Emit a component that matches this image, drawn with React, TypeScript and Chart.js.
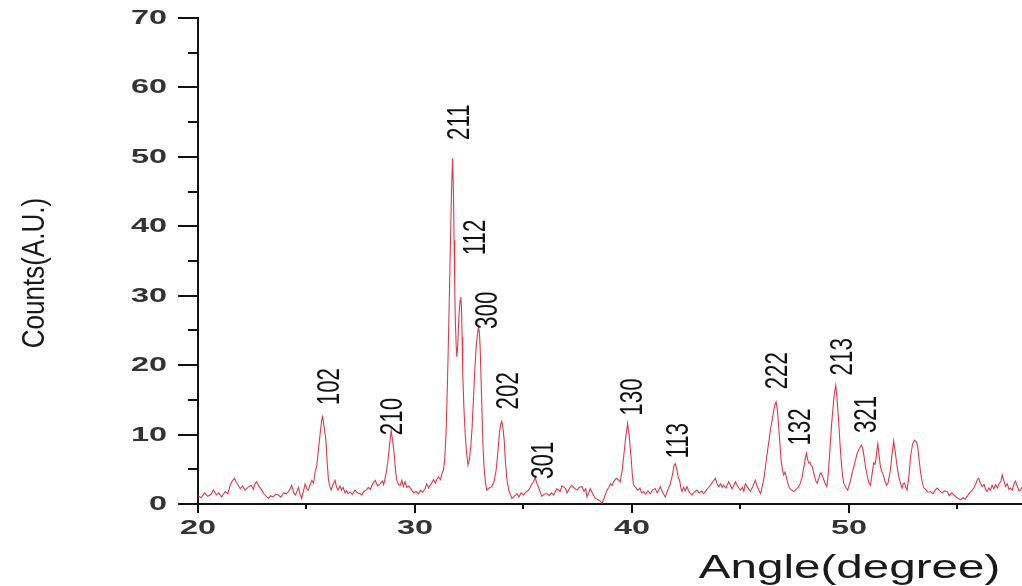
import React, { useEffect, useRef } from "react";
import { Chart, registerables } from "chart.js";

Chart.register(...registerables);

// ---- data ----
const angles = [
  20.0, 20.15, 20.3, 20.45, 20.6, 20.71, 20.85, 20.95, 21.09, 21.25, 21.38, 21.48, 21.58, 21.68, 21.77, 21.86, 21.95,
  22.05, 22.17, 22.3, 22.45, 22.55, 22.63, 22.71, 22.8, 22.94, 23.05, 23.15, 23.25, 23.35, 23.45, 23.58, 23.71, 23.82,
  23.95, 24.09, 24.2, 24.32, 24.42, 24.5, 24.63, 24.7, 24.78, 24.86, 24.94, 25.02, 25.09, 25.17, 25.25, 25.33, 25.4,
  25.48, 25.55, 25.63, 25.7, 25.75, 25.82, 25.9, 25.96, 26.02, 26.08, 26.14, 26.22, 26.32, 26.39, 26.46, 26.55, 26.62,
  26.69, 26.78, 26.85, 26.92, 27.02, 27.12, 27.24, 27.35, 27.45, 27.55, 27.65, 27.76, 27.86, 27.95, 28.05, 28.17, 28.28,
  28.4, 28.5, 28.56, 28.63, 28.7, 28.78, 28.85, 28.91, 28.98, 29.06, 29.12, 29.17, 29.25, 29.32, 29.4, 29.47, 29.55,
  29.63, 29.72, 29.86, 29.95, 30.05, 30.17, 30.26, 30.35, 30.47, 30.55, 30.64, 30.73, 30.86, 30.95, 31.02, 31.09, 31.18,
  31.25, 31.32, 31.38, 31.44, 31.5, 31.55, 31.6, 31.66, 31.7, 31.74, 31.78, 31.81, 31.84, 31.87, 31.91, 31.94, 31.98,
  32.01, 32.05, 32.09, 32.12, 32.15, 32.18, 32.21, 32.26, 32.32, 32.38, 32.45, 32.52, 32.58, 32.64, 32.7, 32.76, 32.83,
  32.89, 32.94, 32.98, 33.01, 33.06, 33.11, 33.15, 33.2, 33.26, 33.32, 33.42, 33.55, 33.65, 33.75, 33.83, 33.9, 33.96,
  34.01, 34.06, 34.12, 34.18, 34.25, 34.33, 34.4, 34.48, 34.58, 34.71, 34.8, 34.9, 35.01, 35.12, 35.24, 35.32, 35.4,
  35.48, 35.55, 35.62, 35.7, 35.78, 35.86, 35.96, 36.09, 36.2, 36.3, 36.4, 36.55, 36.7, 36.78, 36.86, 36.95, 37.02,
  37.09, 37.16, 37.24, 37.35, 37.48, 37.58, 37.71, 37.8, 37.88, 37.94, 38.02, 38.09, 38.2, 38.32, 38.45, 38.55, 38.63,
  38.72, 38.8, 38.86, 38.95, 39.02, 39.09, 39.18, 39.29, 39.38, 39.47, 39.55, 39.63, 39.72, 39.81, 39.88, 39.97, 40.03,
  40.09, 40.18, 40.28, 40.38, 40.46, 40.55, 40.65, 40.75, 40.86, 40.96, 41.09, 41.18, 41.25, 41.32, 41.42, 41.55, 41.65,
  41.78, 41.88, 41.95, 42.01, 42.08, 42.15, 42.21, 42.27, 42.32, 42.4, 42.47, 42.55, 42.65, 42.78, 42.88, 43.01, 43.12,
  43.22, 43.32, 43.42, 43.52, 43.63, 43.74, 43.86, 43.93, 44.01, 44.1, 44.17, 44.24, 44.35, 44.47, 44.55, 44.63, 44.7,
  44.78, 44.88, 45.01, 45.1, 45.17, 45.24, 45.35, 45.47, 45.57, 45.63, 45.7, 45.8, 45.88, 45.94, 46.03, 46.1, 46.17,
  46.28, 46.4, 46.5, 46.58, 46.66, 46.72, 46.78, 46.84, 46.89, 46.95, 47.01, 47.07, 47.13, 47.2, 47.28, 47.38, 47.47,
  47.58, 47.7, 47.78, 47.86, 47.95, 48.02, 48.06, 48.11, 48.16, 48.22, 48.27, 48.32, 48.42, 48.48, 48.55, 48.62, 48.68,
  48.73, 48.8, 48.86, 48.93, 49.0, 49.07, 49.16, 49.22, 49.29, 49.35, 49.41, 49.46, 49.53, 49.6, 49.66, 49.72, 49.78,
  49.87, 49.96, 50.06, 50.17, 50.28, 50.4, 50.5, 50.6, 50.68, 50.78, 50.88, 50.95, 51.01, 51.08, 51.16, 51.22, 51.26,
  51.31, 51.35, 51.4, 51.47, 51.54, 51.6, 51.68, 51.75, 51.82, 51.93, 52.0, 52.08, 52.15, 52.24, 52.33, 52.4, 52.47,
  52.52, 52.58, 52.64, 52.7, 52.78, 52.86, 52.95, 53.04, 53.12, 53.19, 53.25, 53.31, 53.38, 53.47, 53.56, 53.65, 53.78,
  53.9, 54.0, 54.09, 54.2, 54.32, 54.43, 54.55, 54.65, 54.76, 54.86, 54.97, 55.06, 55.16, 55.28, 55.38, 55.47, 55.58,
  55.68, 55.78, 55.88, 55.95, 56.0, 56.08, 56.16, 56.25, 56.32, 56.39, 56.47, 56.55, 56.62, 56.7, 56.78, 56.86, 56.94,
  57.02, 57.09, 57.15, 57.24, 57.32, 57.4, 57.47, 57.55, 57.62, 57.7, 57.78, 57.86, 57.93, 58.0,
];

const counts = [
  1.2, 0.9, 1.6, 1.1, 1.4, 2.0, 1.3, 1.6, 1.0, 1.8, 1.5, 2.7, 3.3, 3.7, 3.1, 2.7, 2.2,
  2.6, 2.0, 2.4, 2.7, 2.1, 2.9, 3.2, 2.6, 2.0, 1.4, 1.1, 0.8, 1.2, 1.0, 1.4, 1.3, 1.0,
  1.6, 1.5, 1.9, 2.7, 1.6, 1.3, 2.4, 1.5, 0.8, 1.8, 2.9, 2.2, 2.0, 2.8, 3.4, 3.0, 4.6,
  5.6, 7.7, 10.0, 12.0, 12.6, 11.0, 9.2, 5.8, 3.4, 2.5, 2.0, 2.8, 3.4, 2.4, 2.0, 2.6, 2.0,
  2.4, 1.6, 1.9, 1.5, 1.7, 1.4, 2.0, 1.6, 1.5, 1.3, 1.8, 2.0, 2.4, 2.1, 2.9, 3.4, 2.6,
  2.9, 3.3, 2.8, 3.7, 4.8, 6.8, 9.0, 10.6, 9.0, 6.8, 4.5, 3.4, 2.8, 2.7, 3.4, 2.5, 3.2,
  2.4, 2.6, 2.0, 1.6, 1.8, 1.5, 2.0, 1.7, 2.2, 2.9, 2.3, 2.8, 3.5, 3.0, 3.6, 3.9, 3.5,
  4.4, 4.9, 6.5, 10.2, 17.0, 23.6, 31.0, 40.5, 46.0, 49.8, 45.0, 38.0, 31.0, 26.1, 22.5, 21.2, 23.0,
  25.5, 27.8, 29.4, 29.8, 28.4, 24.0, 18.8, 14.0, 10.2, 7.5, 5.6, 6.5, 8.3, 11.0, 15.0, 19.0, 22.7,
  24.5, 25.5, 24.6, 22.7, 17.5, 11.7, 7.8, 4.9, 3.0, 2.0, 2.3, 2.5, 3.2, 4.9, 7.5, 10.2, 11.5,
  11.9, 11.0, 9.2, 6.0, 3.5, 2.0, 1.4, 0.8, 1.1, 1.5, 1.0, 1.6, 1.3, 1.7, 2.0, 2.4, 2.9,
  3.2, 3.9, 3.0, 2.5, 1.7, 1.1, 1.4, 1.5, 1.2, 1.6, 1.3, 2.2, 1.8, 2.6, 2.5, 2.2, 1.6,
  2.0, 2.4, 2.7, 2.3, 2.0, 2.4, 2.5, 1.8, 2.2, 1.0, 1.6, 2.2, 1.5, 0.8, 0.6, 0.4, 0.1,
  0.8, 1.5, 2.0, 2.4, 2.9, 2.7, 3.3, 3.7, 3.5, 3.2, 4.6, 6.8, 9.5, 11.6, 10.0, 6.8, 4.2,
  2.7, 2.4, 2.0, 2.3, 1.6, 1.8, 1.4, 1.9, 1.5, 2.0, 2.2, 1.6, 2.0, 2.5, 1.7, 1.0, 1.9,
  2.9, 4.2, 5.5, 5.8, 5.0, 3.8, 3.4, 2.3, 1.8, 2.4, 1.9, 2.5, 1.7, 1.3, 1.7, 2.0, 1.6,
  1.9, 1.5, 1.9, 2.3, 2.7, 3.2, 3.7, 3.0, 2.5, 2.9, 2.4, 2.7, 2.3, 3.2, 2.7, 2.2, 2.6,
  3.2, 2.6, 2.0, 2.4, 1.8, 2.9, 2.4, 1.8, 2.4, 2.9, 3.4, 2.4, 1.9, 1.5, 2.6, 3.8, 5.4,
  8.0, 10.7, 12.5, 14.0, 14.7, 13.5, 11.1, 8.5, 6.3, 5.0, 4.2, 4.6, 3.9, 3.0, 2.3, 2.0, 1.8,
  2.1, 2.5, 3.0, 3.9, 5.5, 6.8, 7.3, 6.5, 5.9, 6.0, 5.6, 5.4, 4.2, 3.4, 3.0, 3.6, 4.3,
  4.5, 4.0, 3.5, 2.9, 2.5, 4.5, 8.7, 11.5, 14.0, 16.0, 17.1, 15.5, 12.6, 9.0, 6.3, 4.2, 3.0,
  2.4, 2.0, 3.0, 4.5, 5.8, 7.3, 8.0, 8.5, 7.6, 5.4, 3.8, 3.0, 2.7, 4.2, 5.9, 5.7, 6.3,
  7.8, 8.7, 7.2, 5.4, 4.6, 4.2, 3.3, 2.7, 3.0, 4.9, 7.0, 9.1, 7.6, 5.4, 3.8, 2.9, 2.3,
  2.9, 3.0, 2.4, 2.0, 3.8, 6.8, 8.6, 9.2, 9.0, 8.3, 6.5, 4.9, 3.4, 2.3, 2.1, 1.7, 1.8,
  1.5, 2.0, 2.3, 1.9, 1.6, 1.9, 1.8, 1.2, 1.6, 1.3, 1.0, 0.8, 0.6, 0.9, 0.7, 1.1, 1.6,
  1.9, 2.3, 3.0, 3.6, 3.7, 3.0, 2.5, 2.8, 2.1, 1.8, 2.3, 2.0, 2.7, 2.2, 2.8, 2.3, 2.9,
  3.2, 4.2, 3.5, 2.5, 2.9, 2.1, 2.3, 2.0, 2.8, 3.3, 2.6, 1.9, 2.0, 2.4,
];

const peakNames = ["102", "210", "211", "112", "300", "202", "301", "130", "113", "222", "132", "213", "321"];
const peakLabelAngles = [26.12, 29.02, 32.12, 32.86, 33.4, 34.36, 35.98, 40.1, 42.18, 46.76, 47.82, 49.75, 50.87];
const peakLabelCounts = [16.9, 12.6, 55.0, 38.4, 27.9, 16.3, 6.3, 15.4, 9.1, 19.2, 11.1, 21.2, 12.9];

const xTickValues = [20, 25, 30, 35, 40, 45, 50, 55];
const yTickValues = [0, 5, 10, 15, 20, 25, 30, 35, 40, 45, 50, 55, 60, 65, 70];
const xMin = 20;
const xMax = 58;
const yMin = 0;
const yMax = 70;
const xTitle = "Angle(degree)";
const yTitle = "Counts(A.U.)";
const titleAnchorAngle = 50;

function drawText(
  ctx: CanvasRenderingContext2D,
  text: string,
  x: number,
  y: number,
  font: string,
  sx: number,
  rot: number,
  align: CanvasTextAlign,
  baseline: CanvasTextBaseline,
  color: string
) {
  ctx.save();
  ctx.translate(x, y);
  if (rot) ctx.rotate(rot);
  ctx.scale(sx, 1);
  ctx.font = font;
  ctx.fillStyle = color;
  ctx.textAlign = align;
  ctx.textBaseline = baseline;
  ctx.fillText(text, 0, 0);
  ctx.restore();
}

const decorPlugin = {
  id: "decor",
  afterDraw(chart: any) {
    const { ctx, chartArea } = chart;
    const xs = chart.scales.x;
    const ys = chart.scales.y;
    const tickFont = 'bold 20px "Liberation Sans", Arial, sans-serif';
    ctx.save();
    ctx.strokeStyle = "#111";
    ctx.lineWidth = 2;
    // y ticks + labels
    yTickValues.forEach((v) => {
      const py = Math.round(ys.getPixelForValue(v));
      const major = v % 10 === 0;
      const len = major ? 20 : 10;
      ctx.beginPath();
      ctx.moveTo(chartArea.left - len, py);
      ctx.lineTo(chartArea.left, py);
      ctx.stroke();
      if (major) {
        drawText(ctx, String(v), chartArea.left - 31, py, tickFont, 1.62, 0, "right", "middle", "#333");
      }
    });
    // x ticks + labels
    xTickValues.forEach((v) => {
      const px = Math.round(xs.getPixelForValue(v));
      const major = v % 10 === 0;
      const len = major ? 9 : 5;
      ctx.beginPath();
      ctx.moveTo(px, chartArea.bottom);
      ctx.lineTo(px, chartArea.bottom + len);
      ctx.stroke();
      if (major) {
        drawText(ctx, String(v), px, chartArea.bottom + 24, tickFont, 1.62, 0, "center", "middle", "#333");
      }
    });
    // axis titles
    drawText(
      ctx,
      xTitle,
      xs.getPixelForValue(titleAnchorAngle) + 1,
      chartArea.bottom + 74,
      '34px "Liberation Sans", Arial, sans-serif',
      1.4,
      0,
      "center",
      "alphabetic",
      "#1a1a1a"
    );
    drawText(
      ctx,
      yTitle,
      35,
      (chartArea.top + chartArea.bottom) / 2 + 12,
      '31px "Liberation Sans", Arial, sans-serif',
      0.84,
      -Math.PI / 2,
      "center",
      "middle",
      "#1a1a1a"
    );
    // peak labels
    peakNames.forEach((name, i) => {
      const px = xs.getPixelForValue(peakLabelAngles[i]);
      const py = ys.getPixelForValue(peakLabelCounts[i]);
      drawText(ctx, name, px, py, '31px "Liberation Sans", Arial, sans-serif', 0.72, -Math.PI / 2, "center", "middle", "#111");
    });
    ctx.restore();
  },
};

export default function App() {
  const canvasRef = useRef<HTMLCanvasElement | null>(null);

  useEffect(() => {
    if (!canvasRef.current) return;
    const points = angles.map((a, i) => ({ x: a, y: counts[i] }));
    const chart = new Chart(canvasRef.current, {
      type: "line",
      data: {
        datasets: [
          {
            data: points,
            borderColor: "#e0394a",
            borderWidth: 1.1,
            pointRadius: 0,
            tension: 0,
            fill: false,
          },
        ],
      },
      options: {
        animation: false,
        responsive: true,
        maintainAspectRatio: false,
        devicePixelRatio: 1,
        layout: { padding: { left: 0, right: 0, top: 18, bottom: 0 } },
        plugins: {
          legend: { display: false },
          tooltip: { enabled: false },
        },
        scales: {
          x: {
            type: "linear",
            min: xMin,
            max: xMax,
            grid: { display: false, drawTicks: false },
            border: { display: true, color: "#111", width: 2 },
            ticks: { display: false, stepSize: 5 },
            afterFit: (s: any) => {
              s.height = 82;
            },
          },
          y: {
            type: "linear",
            min: yMin,
            max: yMax,
            grid: { display: false, drawTicks: false },
            border: { display: true, color: "#111", width: 2 },
            ticks: { display: false, stepSize: 5 },
            afterFit: (s: any) => {
              s.width = 198;
            },
          },
        },
      },
      plugins: [decorPlugin],
    });
    return () => chart.destroy();
  }, []);

  return (
    <div style={{ position: "absolute", left: 0, top: 0, width: 1022, height: 586, background: "#fff" }}>
      <canvas ref={canvasRef} />
    </div>
  );
}
